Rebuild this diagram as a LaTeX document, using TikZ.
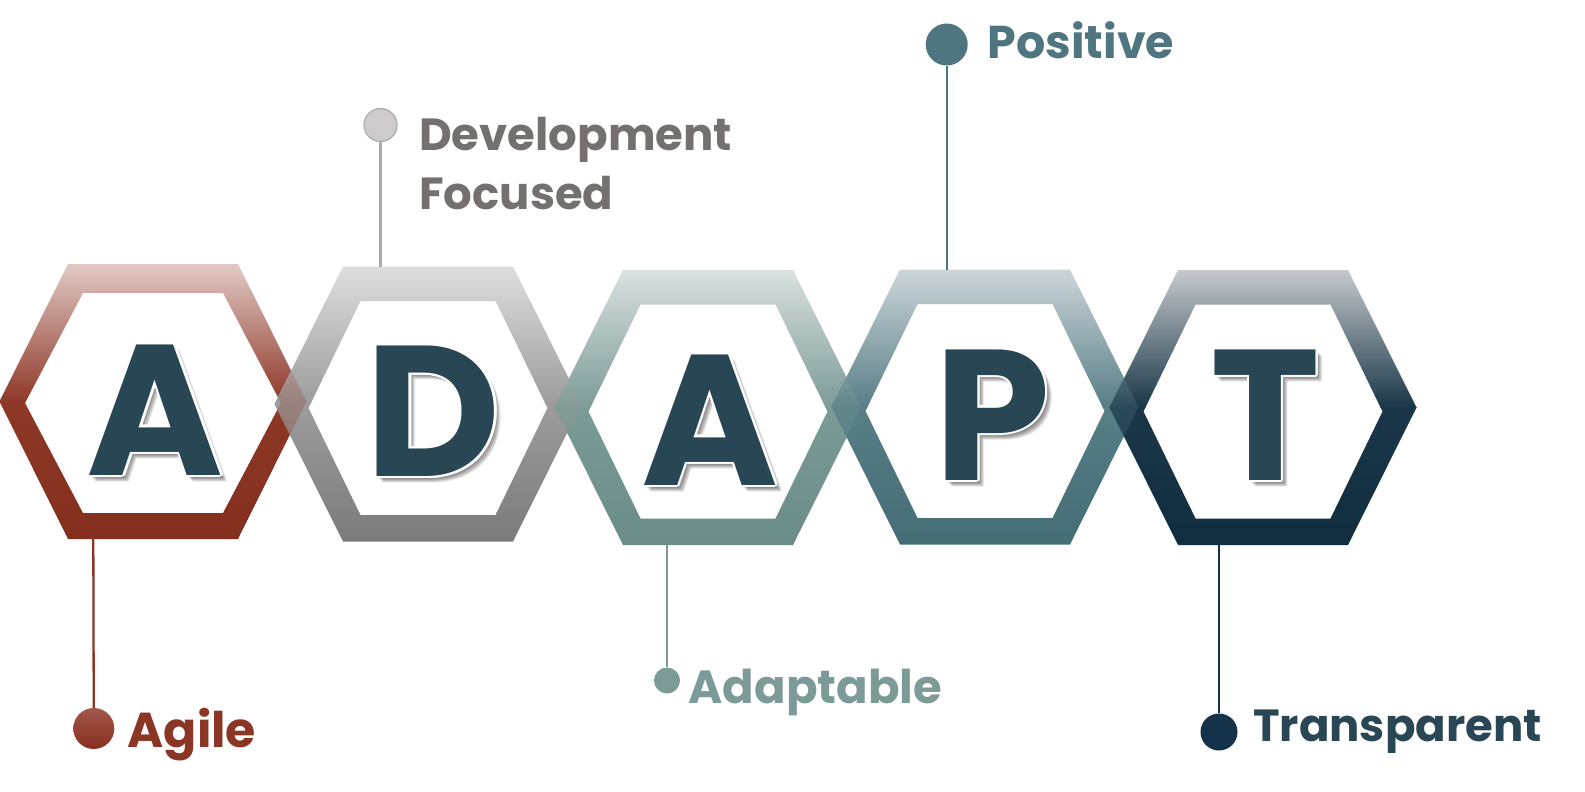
\documentclass[tikz,border=0pt]{standalone}
\usepackage{fontspec}
\setmainfont{Poppins}
\definecolor{letterc}{HTML}{284654}
\definecolor{agilec}{HTML}{8B3525}
\definecolor{agiledot}{HTML}{882F20}
\definecolor{agiledottop}{HTML}{A0574A}
\definecolor{devc}{HTML}{747070}
\definecolor{devline}{HTML}{ABABAB}
\definecolor{devdot}{HTML}{CDCBCB}
\definecolor{posc}{HTML}{4F7680}
\definecolor{adac}{HTML}{7C9A98}
\definecolor{tranc}{HTML}{284654}
\definecolor{trandot}{HTML}{14324A}
\definecolor{hAt}{HTML}{E2CAC6}\definecolor{hAm}{HTML}{8E3828}\definecolor{hAb}{HTML}{842E1E}
\definecolor{hBt}{HTML}{DEDEDE}\definecolor{hBm}{HTML}{9C9C9C}\definecolor{hBb}{HTML}{7B7B7B}
\definecolor{hCt}{HTML}{D9E1DF}\definecolor{hCm}{HTML}{7B9B97}\definecolor{hCb}{HTML}{6A8C88}
\definecolor{hDt}{HTML}{CDD6DA}\definecolor{hDm}{HTML}{587E86}\definecolor{hDb}{HTML}{456D76}
\definecolor{hEt}{HTML}{C6CACD}\definecolor{hEm}{HTML}{1A3648}\definecolor{hEb}{HTML}{112E40}
\tikzset{
  lbl/.style={anchor=base west, font=\fontsize{#1}{#1}\selectfont\bfseries, inner sep=0pt},
  dotnode/.style={circle, inner sep=0pt, minimum size=#1},
  bigl/.style={font=\fontsize{186}{186}\selectfont\bfseries, inner sep=0pt, anchor=base},
  conn/.style={line width=2.3pt},
}
% outer hexagon: centre x, centre y
\newcommand\hexouter[2]{(#1-153.5,#2) -- (#1-85,#2-137.5) -- (#1+85,#2-137.5) -- (#1+153.5,#2) -- (#1+85,#2+137.5) -- (#1-85,#2+137.5) -- cycle}
% inner hexagon: centre x, top y, bottom y, half width, half top length
\newcommand\hexinner[5]{(#1-#4,{(#2+#3)/2}) -- (#1-#5,#2) -- (#1+#5,#2) -- (#1+#4,{(#2+#3)/2}) -- (#1+#5,#3) -- (#1-#5,#3) -- cycle}
% ring: cx cy itop ibot ihw ihl top mid bottom
\newcommand\hexring[9]{%
  \begin{scope}[even odd rule]
    \clip \hexouter{#1}{#2} \hexinner{#1}{#3}{#4}{#5}{#6};
    \shade[top color=#7, bottom color=#8] (#1-160,#2-138) rectangle (#1+160,#2);
    \shade[top color=#8, bottom color=#9] (#1-160,#2-0.5) rectangle (#1+160,#2+138);
  \end{scope}}
\newcommand\ringA{\hexring{153}{401.5}{293}{513}{128}{70}{hAt}{hAm}{hAb}}
\newcommand\ringB{\hexring{428}{404}{301}{515}{119.5}{67.5}{hBt}{hBm}{hBb}}
\newcommand\ringC{\hexring{708}{407.5}{304.5}{518.5}{119.5}{67.5}{hCt}{hCm}{hCb}}
\newcommand\ringD{\hexring{985}{407}{304}{518}{119.5}{67.5}{hDt}{hDm}{hDb}}
\newcommand\ringE{\hexring{1263}{407.5}{304.5}{518.5}{119.5}{67.5}{hEt}{hEm}{hEb}}
\newcommand\blendover[2]{% redraw ring #1 faintly inside the outline of the ring drawn over it
  \begin{scope}
    \clip #2;
    \begin{scope}[transparency group, opacity=0.28]
      #1
    \end{scope}
  \end{scope}}
\newcommand\bigletter[4]{%
  \foreach \dx/\dy in {2/3,3/4,4/3,4/5,5/4,5/6,6/5,6/7,7/6}
    \node[bigl, text=black, opacity=0.06] at (#1+\dx,#2+\dy) {#3};
  \foreach \a in {0,30,...,330}
    \node[bigl, text=white] at ({#1+2.2*cos(\a)},{#2+2.2*sin(\a)}) {#3};
  \node[bigl, text=letterc] (#4) at (#1,#2) {#3};
}
\begin{document}
\begin{tikzpicture}[x=1pt,y=-1pt]
\fill[white] (0,0) rectangle (1585,792);
\useasboundingbox (0,0) rectangle (1585,792);
% hexagons
\ringA
\ringB
\blendover{\ringA}{\hexouter{428}{404}}
\ringC
\blendover{\ringB}{\hexouter{708}{407.5}}
\ringD
\blendover{\ringC}{\hexouter{985}{407}}
\ringE
\blendover{\ringD}{\hexouter{1263}{407.5}}
% letters
\bigletter{155.5}{475}{A}{L1}
\bigletter{433.6}{476.7}{D}{L2}
\bigletter{710.3}{485}{A}{L3}
\bigletter{992.5}{480}{P}{L4}
\bigletter{1265.3}{480.7}{T}{L5}
% connectors and dots
\coordinate (h1) at (93.3,538);
\coordinate (h2) at (380.5,266.5);
\coordinate (h3) at (667,544.5);
\coordinate (h4) at (946.7,269.5);
\coordinate (h5) at (1219,544.5);
\node[dotnode=41pt, top color=agiledottop, bottom color=agiledot] (d1) at (93.8,728.5) {};
\node[dotnode=33pt, fill=devdot, draw=devline, line width=1.2pt] (d2) at (380.5,125) {};
\node[dotnode=26pt, fill=adac] (d3) at (667,680.5) {};
\node[dotnode=42pt, fill=posc] (d4) at (946.7,44.5) {};
\node[dotnode=37pt, fill=trandot] (d5) at (1219,732) {};
\draw[conn, agilec] (h1) -- (d1);
\draw[conn, devline] (h2) -- (d2);
\draw[conn, adac] (h3) -- (d3);
\draw[conn, posc] (h4) -- (d4);
\draw[conn, trandot] (h5) -- (d5);
% labels
\node[lbl=49, text=agilec] (t1) at (127.5,747.7) {Agile};
\node[lbl=45, text=devc] (t2a) at (419,150.5) {Development};
\node[lbl=45, text=devc] (t2b) at (419,209.5) {Focused};
\node[lbl=46.5, text=adac] (t3) at (688.5,703.3) {Adaptable};
\node[lbl=46, text=posc] (t4) at (987.5,58.5) {Positive};
\node[lbl=45, text=tranc] (t5) at (1253,741.7) {Transparent};
\end{tikzpicture}
\end{document}
